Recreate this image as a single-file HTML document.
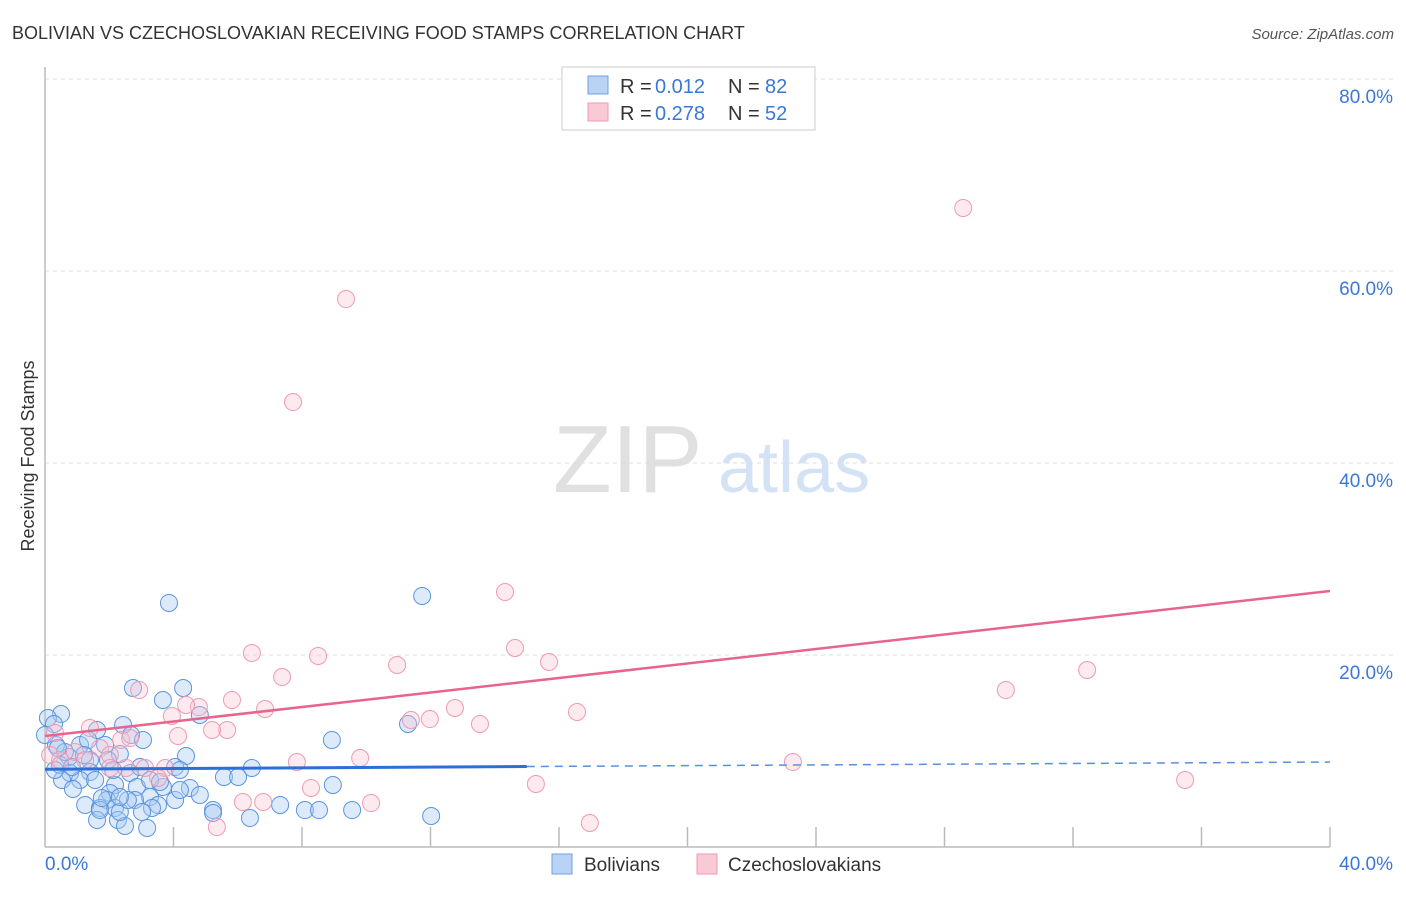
<!DOCTYPE html>
<html><head><meta charset="utf-8"><style>
body{margin:0;background:#fff;font-family:"Liberation Sans",sans-serif;}
svg text{font-family:"Liberation Sans",sans-serif;}
</style></head><body>
<svg id="chart" width="1406" height="892" xmlns="http://www.w3.org/2000/svg">
<text x="12" y="39" font-size="18" fill="#333">BOLIVIAN VS CZECHOSLOVAKIAN RECEIVING FOOD STAMPS CORRELATION CHART</text>
<text x="1394" y="39" font-size="15" fill="#555" font-style="italic" text-anchor="end">Source: ZipAtlas.com</text>
<text x="34" y="456" font-size="18" fill="#333" text-anchor="middle" transform="rotate(-90 34 456)">Receiving Food Stamps</text>
<g>
<text x="553" y="492" font-size="96" fill="#e0e0e0" font-family="Liberation Serif,serif">ZIP</text>
<text x="718" y="492" font-size="72" fill="#d3e2f5">atlas</text>
</g>
<g id="grid"></g><g id="axes"></g><g id="pts"></g><g id="lines"></g>
<g>
<rect x="562" y="67" width="253" height="63" fill="#fff" stroke="#ccc"/>
<rect x="588" y="76" width="20" height="18" fill="#b8d3f5" stroke="#6fa0e0"/>
<rect x="588" y="103" width="20" height="18" fill="#f9c9d6" stroke="#ee9ab2"/>
<text y="93" font-size="20" fill="#333"><tspan x="620">R = </tspan><tspan x="655" fill="#3a78d8">0.012</tspan><tspan x="728">N = </tspan><tspan x="765" fill="#3a78d8">82</tspan></text>
<text y="120" font-size="20" fill="#333"><tspan x="620">R = </tspan><tspan x="655" fill="#3a78d8">0.278</tspan><tspan x="728">N = </tspan><tspan x="765" fill="#3a78d8">52</tspan></text>
</g>
<g>
<rect x="552" y="854" width="20" height="20" fill="#b8d3f5" stroke="#6fa0e0"/>
<text x="584" y="871" font-size="19" fill="#333">Bolivians</text>
<rect x="697" y="854" width="20" height="20" fill="#f9c9d6" stroke="#ee9ab2"/>
<text x="728" y="871" font-size="19" fill="#333">Czechoslovakians</text>
</g>
</svg>
<script>
const bluePx=[[169,603],[422,596],[133,688],[183,688],[163,700],[200,715],[61,714],[48,718],[54,724],[123,725],[131,735],[97,730],[143,740],[332,740],[408,724],[56,745],[80,745],[105,745],[186,756],[120,754],[69,757],[90,760],[108,760],[60,765],[252,768],[224,777],[238,777],[175,767],[130,773],[90,772],[70,773],[62,780],[80,780],[115,785],[163,787],[190,788],[137,787],[333,785],[73,789],[110,793],[107,800],[150,797],[175,800],[135,800],[85,805],[100,808],[115,808],[158,805],[213,810],[213,813],[152,808],[280,805],[305,810],[319,810],[352,810],[431,816],[97,820],[118,820],[250,818],[125,826],[147,828],[100,810],[120,812],[150,780],[65,752],[45,735],[55,770],[88,740],[140,767],[160,782],[180,790],[72,767],[180,770],[200,795],[128,800],[95,780],[113,770],[58,748],[84,755],[102,798],[142,812],[120,797]];
const pinkPx=[[963,208],[346,299],[293,402],[505,592],[515,648],[549,662],[252,653],[318,656],[397,665],[282,677],[1087,670],[1006,690],[139,690],[577,712],[265,709],[232,700],[199,707],[186,705],[172,716],[455,708],[430,719],[411,720],[480,724],[227,730],[212,730],[178,736],[90,728],[55,733],[121,740],[100,748],[75,752],[50,755],[60,760],[110,755],[360,758],[297,762],[793,762],[126,768],[145,768],[165,768],[158,778],[110,768],[1185,780],[536,784],[311,788],[371,803],[263,802],[243,802],[217,827],[590,823],[85,760],[130,738]];
const blueX=bluePx.map(p=>+((p[0]-45)/32.125).toFixed(2));
const blueY=bluePx.map(p=>+((847-p[1])/9.6).toFixed(2));
const pinkX=pinkPx.map(p=>+((p[0]-45)/32.125).toFixed(2));
const pinkY=pinkPx.map(p=>+((847-p[1])/9.6).toFixed(2));
const blueTrend=[8.1,8.85];
const pinkTrend=[11.56,26.67];
const yTicks=[20,40,60,80];
const yTickLabels=["20.0%","40.0%","60.0%","80.0%"];
const xTickLabels=["0.0%","40.0%"];

const X=v=>45+v*32.125, Y=v=>847-v*9.6;
const NS="http://www.w3.org/2000/svg";
function mk(t,a,parent){const e=document.createElementNS(NS,t);for(const k in a)e.setAttribute(k,a[k]);document.getElementById(parent).appendChild(e);return e;}
yTicks.forEach((t,i)=>{
 const g=mk('line',{x1:45,x2:1394,y1:Y(t),y2:Y(t),stroke:'#ddd','stroke-dasharray':'4,4'},'grid');
 
 
 const l=mk('text',{x:1393,y:Y(t)+24,'font-size':19,fill:'#3a78d8','text-anchor':'end'},'grid');
 l.textContent=yTickLabels[i];
 
 
});
const ax=mk('line',{x1:45,x2:45,y1:67,y2:847,stroke:'#bbb','stroke-width':1.5},'axes');


const bx=mk('line',{x1:45,x2:1330,y1:847,y2:847,stroke:'#bbb','stroke-width':1.5},'axes');


for(let i=1;i<=10;i++){const tk=mk('line',{x1:X(i*4),x2:X(i*4),y1:827,y2:847,stroke:'#bbb','stroke-width':1.5},'axes');
 
 }
[[0,'start',45],[1,'end',1393]].forEach(([i,a,x])=>{const t=mk('text',{x:x,y:870,'font-size':19,fill:'#3a78d8','text-anchor':a},'axes');t.textContent=xTickLabels[i];
 
 });
blueX.forEach((x,i)=>{const c=mk('circle',{cx:X(x),cy:Y(blueY[i]),r:8.5,fill:'rgba(170,202,242,0.4)',stroke:'#5b95e0','stroke-width':1},'pts');
 
 });
pinkX.forEach((x,i)=>{const c=mk('circle',{cx:X(x),cy:Y(pinkY[i]),r:8.5,fill:'rgba(248,196,210,0.35)',stroke:'#ee9ab2','stroke-width':1},'pts');
 
 });
const bt=v=>blueTrend[0]+(blueTrend[1]-blueTrend[0])*v/40;
const l1=mk('line',{x1:X(0),y1:Y(bt(0)),x2:X(15),y2:Y(bt(15)),stroke:'#2d6fd6','stroke-width':3},'lines');


const l2=mk('line',{x1:X(15),y1:Y(bt(15)),x2:X(40),y2:Y(bt(40)),stroke:'#5a8fdd','stroke-width':1.5,'stroke-dasharray':'8,6'},'lines');


const l3=mk('line',{x1:X(0),y1:Y(pinkTrend[0]),x2:X(40),y2:Y(pinkTrend[1]),stroke:'#e8648c','stroke-width':2.5},'lines');


</script>
</body></html>
